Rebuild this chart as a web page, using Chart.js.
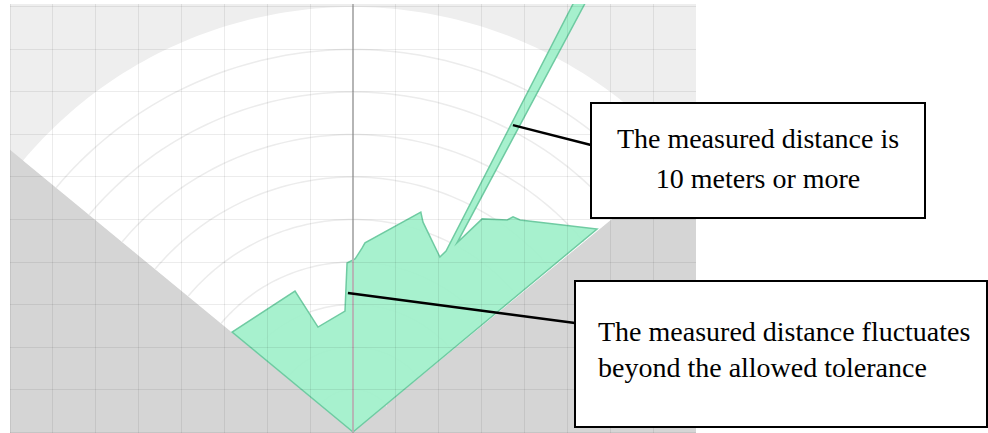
<!DOCTYPE html>
<html><head><meta charset="utf-8">
<script src="https://cdn.jsdelivr.net/npm/chart.js@4/dist/chart.umd.min.js"></script>
<style>
html,body{margin:0;padding:0;background:#fff;width:988px;height:433px;overflow:hidden;}
#wrap{position:absolute;left:10px;top:4px;width:686px;height:429px;background:#eeeeee;}
canvas{display:block;}
.box{position:absolute;border:2px solid #000;background:#fff;box-sizing:border-box;}
.ln{position:absolute;font-family:"Liberation Serif","Times New Roman",serif;font-size:28px;white-space:nowrap;color:#000;}
</style></head>
<body>
<div id="wrap"><canvas id="c"></canvas></div>
<div class="box" id="box1" style="left:590px;top:102px;width:336px;height:117px;"></div>
<div class="ln" style="left:590px;width:336px;text-align:center;top:118.5px;line-height:40px">The measured distance is</div>
<div class="ln" style="left:590px;width:336px;text-align:center;top:158.5px;line-height:40px">10 meters or more</div>
<div class="box" id="box2" style="left:574px;top:280px;width:414px;height:148px;"></div>
<div class="ln" style="left:598px;top:313.5px;line-height:36px">The measured distance fluctuates</div>
<div class="ln" style="left:598px;top:349.5px;line-height:36px">beyond the allowed tolerance</div>
<script>
// ---- data (sensor scan, polar: degrees from straight ahead, metres) ----
const scanAngles    = [-50.2, -22.2, -18.3, -3.75, -2.0, 0.66, 2.78, 3.6, 17.0, 18.3, 26.2, 27.0, 27.0, 28.2, 28.6, 31.0, 35.8, 36.4, 38.0, 50.0];
const scanDistances = [ 3.67,  3.58,  2.60,  2.85, 3.98, 4.07, 4.33, 4.46, 5.41, 5.20, 4.59, 4.78, 12.0, 12.1, 5.07, 5.85, 6.15, 6.29, 6.33, 7.43];
const fovHalfAngle = 50.3;          // degrees
const maxRange = 10;                // metres
const rangeRings = [1, 2, 3, 4, 5, 6, 7, 8, 9];
const callouts = [
  {box: 'box1', at: [3.73, 7.22], edgeY: 43},
  {box: 'box2', at: [-0.12, 3.27], edgeY: 43}
];

const rad = d => d * Math.PI / 180;
const polar = (a, r) => ({x: r * Math.sin(rad(a)), y: r * Math.cos(rad(a))});

// outside field of view (dark) region
const far = 25;
const outside = [
  {x: 0, y: 0}, polar(-fovHalfAngle, far), {x: polar(-fovHalfAngle, far).x, y: -2},
  {x: polar(fovHalfAngle, far).x, y: -2}, polar(fovHalfAngle, far), {x: 0, y: 0}
];
// field of view sector
const sector = [{x: 0, y: 0}];
for (let a = -fovHalfAngle; a <= fovHalfAngle + 1e-9; a += (2 * fovHalfAngle) / 100) sector.push(polar(a, maxRange));
sector.push({x: 0, y: 0});
// rings
const ringSets = rangeRings.map(r => {
  const pts = [];
  for (let a = -fovHalfAngle; a <= fovHalfAngle + 1e-9; a += (2 * fovHalfAngle) / 80) pts.push(polar(a, r));
  return pts;
});
// scan polygon
const scan = [{x: 0, y: 0}];
scanAngles.forEach((a, i) => scan.push(polar(a, scanDistances[i])));
scan.push({x: 0, y: 0});

const base = {showLine: true, tension: 0, pointRadius: 0, pointHoverRadius: 0};
const datasets = [
  Object.assign({}, base, {data: outside, fill: 'shape', backgroundColor: '#d5d5d5', borderWidth: 0, order: 20}),
  Object.assign({}, base, {data: sector, fill: 'shape', backgroundColor: '#ffffff', borderWidth: 0, order: 19}),
];
ringSets.forEach(pts => datasets.push(Object.assign({}, base, {data: pts, fill: false, borderColor: '#ececec', borderWidth: 1.5, order: 10})));
datasets.push(Object.assign({}, base, {data: scan, fill: 'shape', backgroundColor: 'rgba(160,240,202,0.92)', borderColor: 'rgba(105,200,158,0.95)', borderWidth: 1.5, order: 1}));

const leaderPlugin = {
  id: 'leaders',
  afterDraw(chart) {
    const ctx = chart.ctx, xs = chart.scales.x, ys = chart.scales.y;
    const cr = chart.canvas.getBoundingClientRect();
    ctx.save();
    ctx.strokeStyle = '#000'; ctx.lineWidth = 2.5;
    callouts.forEach(c => {
      const br = document.getElementById(c.box).getBoundingClientRect();
      ctx.beginPath();
      ctx.moveTo(xs.getPixelForValue(c.at[0]), ys.getPixelForValue(c.at[1]));
      ctx.lineTo(br.left - cr.left + 1, br.top - cr.top + c.edgeY);
      ctx.stroke();
    });
    ctx.restore();
  }
};

const gridColor = ctx => (ctx.tick && ctx.tick.value === 0) ? '#b5b5b5' : 'rgba(0,0,0,0.075)';
const gridWidth = ctx => (ctx.tick && ctx.tick.value === 0) ? 2 : 1;

new Chart(document.getElementById('c'), {
  type: 'scatter',
  data: {datasets},
  options: {
    responsive: true, maintainAspectRatio: false, animation: false, events: [],
    layout: {padding: 0},
    plugins: {legend: {display: false}, tooltip: {enabled: false}},
    scales: {
      x: {type: 'linear', min: -8, max: 8,
          ticks: {display: false, stepSize: 1, includeBounds: false},
          grid: {drawTicks: false, z: 1, color: gridColor, lineWidth: gridWidth},
          border: {display: false}},
      y: {type: 'linear', min: -0.023, max: 10.07,
          ticks: {display: false, stepSize: 1, includeBounds: false},
          grid: {drawTicks: false, z: 1, color: 'rgba(0,0,0,0.075)', lineWidth: 1},
          border: {display: false}}
    }
  },
  plugins: [leaderPlugin]
});
</script>
</body></html>
